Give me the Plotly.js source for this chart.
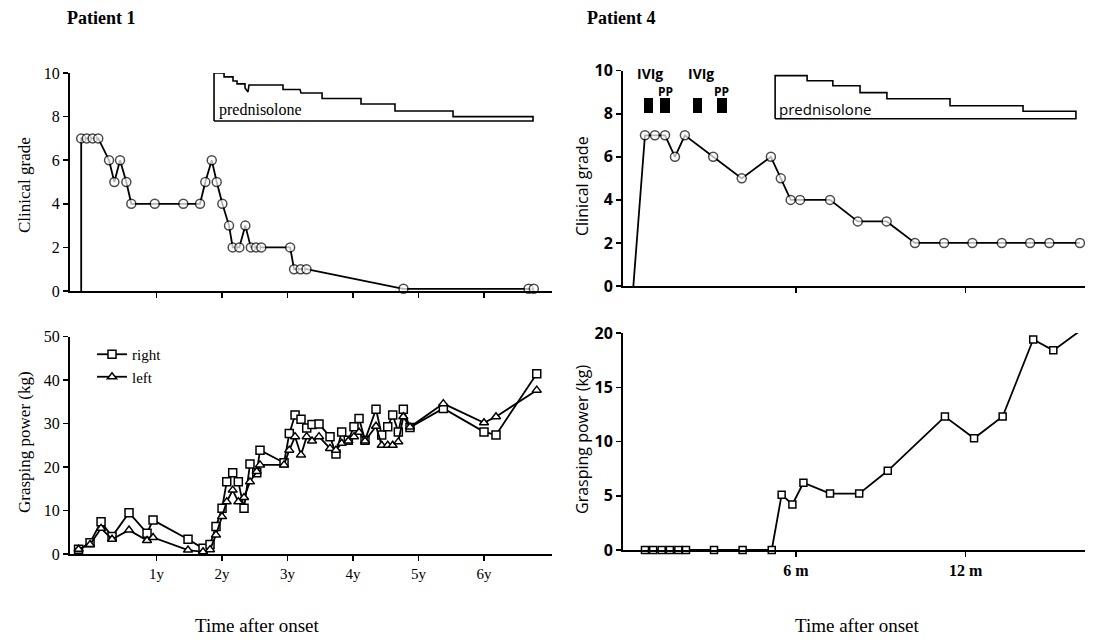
<!DOCTYPE html>
<html>
<head>
<meta charset="utf-8">
<script src="https://cdn.plot.ly/plotly-3.0.1.min.js"></script>
<style>html,body{margin:0;padding:0;background:#fff;}#chart{width:1105px;height:640px;}</style>
</head>
<body>
<div id="chart"></div>
<script>
// ---------- Patient 1 : clinical grade (time in years) ----------
const p1GradeT = [-0.15, -0.15, -0.065, 0.025, 0.11, 0.275, 0.356, 0.443, 0.539, 0.615,
  0.973, 1.409, 1.664, 1.745, 1.843, 1.919, 2.005, 2.107, 2.163, 2.264, 2.356, 2.44, 2.52, 2.6,
  3.04, 3.10, 3.20, 3.29, 4.77, 6.68, 6.76];
const p1Grade = [0, 7, 7, 7, 7, 6, 5, 6, 5, 4,
  4, 4, 4, 5, 6, 5, 4, 3, 2, 2, 3, 2, 2, 2,
  2, 1, 1, 1, 0.1, 0.1, 0.1];

// prednisolone dose outline (patient 1)
const p1PredT = [1.878, 1.878, 2.031, 2.031, 2.168, 2.168, 2.229, 2.229, 2.351, 2.351, 2.397, 2.412, 2.931, 2.931,
  3.191, 3.206, 3.527, 3.527, 4.122, 4.122, 4.641, 4.641, 5.527, 5.527, 6.748, 6.748, 1.878];
const p1PredLevel = [7.8, 10.0, 10.0, 9.82, 9.82, 9.63, 9.63, 9.5, 9.5, 9.31, 9.13, 9.45, 9.45, 9.24,
  9.24, 9.08, 9.08, 8.83, 8.83, 8.58, 8.58, 8.26, 8.26, 8.0, 8.0, 7.8, 7.8];

// ---------- Patient 1 : grasping power (kg) ----------
const p1GripT = [-0.19, -0.015, 0.153, 0.321, 0.58, 0.855, 0.947, 1.481, 1.71, 1.817,
  1.908, 2.0, 2.072, 2.163, 2.249, 2.336, 2.427, 2.53, 2.58, 2.947,
  3.027, 3.115, 3.206, 3.293, 3.374, 3.481, 3.649, 3.74, 3.827, 3.928,
  4.015, 4.092, 4.183, 4.351, 4.438, 4.53, 4.606, 4.692, 4.768, 4.87,
  5.379, 6.0, 6.183, 6.805];
const p1GripRight = [1.1, 2.6, 7.4, 4.0, 9.5, 4.8, 7.8, 3.4, 1.3, 2.2,
  6.3, 10.5, 16.6, 18.7, 16.6, 10.5, 20.7, 18.7, 23.9, 21,
  27.7, 32, 31, 29, 29.8, 29.9, 27, 23, 28.1, 26.2,
  29.3, 31.2, 26.2, 33.3, 27.4, 29.3, 32, 28.1, 33.3, 29.1,
  33.5, 28.1, 27.4, 41.5];
const p1GripLeft = [1.1, 2.2, 5.9, 3.4, 5.5, 3.1, 3.8, 0.9, 0.5, 1.0,
  4.4, 8.6, 12, 14.7, 12, 13, 16.6, 19, 20.5, 20.5,
  23.9, 27, 22.8, 27, 26, 27, 24.3, 23.9, 25.5, 26,
  27, 28, 26, 29.4, 25, 25, 25, 25.8, 31.6, 29.2,
  34.6, 30.2, 31.6, 37.7];
const p1TickVals = [1, 2, 3, 4, 5, 6];
const p1TickText = ['1y', '2y', '3y', '4y', '5y', '6y'];

// ---------- Patient 4 : clinical grade (time in months) ----------
const p4GradeT = [0.26, 0.67, 1.02, 1.38, 1.73, 2.08, 3.08, 4.09, 5.12, 5.47, 5.82, 6.15, 7.21,
  8.19, 9.21, 10.21, 11.24, 12.24, 13.28, 14.28, 14.96, 16.04];
const p4Grade = [0, 7, 7, 7, 6, 7, 6, 5, 6, 5, 4, 4, 4, 3, 3, 2, 2, 2, 2, 2, 2, 2];

// treatments (IVIg / PP) periods in months
const treatStart = [0.64, 1.2, 2.37, 3.22];
const treatEnd = [0.95, 1.55, 2.69, 3.57];
const treatLabels = ['IVIg', 'PP', 'IVIg', 'PP'];
const treatLabelLevel = [9.85, 9.05, 9.85, 9.05];
const treatLabelT = [0.85, 1.41, 2.65, 3.39];

// prednisolone dose outline (patient 4)
const p4PredT = [5.27, 5.27, 6.40, 6.40, 7.31, 7.31, 8.27, 8.27, 9.22, 9.22, 11.45, 11.45, 14.03, 14.03, 15.90, 15.90, 5.27];
const p4PredLevel = [7.77, 9.77, 9.77, 9.53, 9.53, 9.30, 9.30, 8.98, 8.98, 8.70, 8.70, 8.37, 8.37, 8.12, 8.12, 7.77, 7.77];

// ---------- Patient 4 : grasping power (kg) ----------
const p4GripT = [0.67, 0.96, 1.26, 1.55, 1.85, 2.12, 3.11, 4.12, 5.15, 5.50, 5.88, 6.27, 7.21,
  8.24, 9.25, 11.27, 12.30, 13.31, 14.39, 15.10, 16.10];
const p4Grip = [0, 0, 0, 0, 0, 0, 0, 0, 0, 5.1, 4.2, 6.2, 5.2, 5.2, 7.3, 12.3, 10.3, 12.3, 19.4, 18.4, 20.3];
const p4TickVals = [6, 12];
const p4TickText = ['6 m', '12 m'];

// ---------- styling ----------
const SERIF = 'Liberation Serif, Times New Roman, serif';
const SANS = 'Open Sans, DejaVu Sans, sans-serif';
const W = 1105, H = 640;
const px = v => v / W, py = v => 1 - v / H;

const openMarker = (symbol, size) => ({symbol: symbol, size: size, color: '#ffffff', line: {color: '#000', width: 1.5}});

const traces = [
  {x: p1PredT, y: p1PredLevel, xaxis: 'x', yaxis: 'y', mode: 'lines', line: {color: '#000', width: 1.6}, showlegend: false, hoverinfo: 'skip'},
  {x: p1GradeT, y: p1Grade, xaxis: 'x', yaxis: 'y', mode: 'lines+markers', cliponaxis: false,
    line: {color: '#000', width: 1.8},
    marker: Object.assign(openMarker('circle', 9), {size: p1Grade.map((v, i) => i === 0 ? 0 : 9)}),
    showlegend: false},
  {x: p1GripT, y: p1GripRight, xaxis: 'x2', yaxis: 'y2', name: 'right', mode: 'lines+markers', cliponaxis: false,
    line: {color: '#000', width: 1.8}, marker: openMarker('square', 8), showlegend: true},
  {x: p1GripT, y: p1GripLeft, xaxis: 'x2', yaxis: 'y2', name: 'left', mode: 'lines+markers', cliponaxis: false,
    line: {color: '#000', width: 1.8}, marker: openMarker('triangle-up', 8), showlegend: true},
  {x: p4PredT, y: p4PredLevel, xaxis: 'x3', yaxis: 'y3', mode: 'lines', line: {color: '#000', width: 1.6}, showlegend: false, hoverinfo: 'skip'},
  {type: 'bar', x: treatStart.map((s, i) => (s + treatEnd[i]) / 2), width: treatStart.map((s, i) => treatEnd[i] - s),
    y: treatStart.map(() => 0.7), base: 8.05, xaxis: 'x3', yaxis: 'y3', marker: {color: '#000'}, showlegend: false},
  {x: p4GradeT, y: p4Grade, xaxis: 'x3', yaxis: 'y3', mode: 'lines+markers', cliponaxis: false,
    line: {color: '#000', width: 1.8},
    marker: Object.assign(openMarker('circle', 9), {size: p4Grade.map((v, i) => i === 0 ? 0 : 9)}),
    showlegend: false},
  {x: p4GripT, y: p4Grip, xaxis: 'x4', yaxis: 'y4', mode: 'lines+markers', cliponaxis: false,
    line: {color: '#000', width: 1.8}, marker: openMarker('square', 7), showlegend: false}
];

const axBase = {showline: true, linecolor: '#000', linewidth: 2, showgrid: false, zeroline: false,
  ticks: 'outside', ticklen: 5, tickwidth: 1.5, tickcolor: '#000', fixedrange: true};

const p1XDom = [px(70), px(552)], p1XRange = [-0.321, 7.038];
const p4XDom = [px(623), px(1085)], p4XRange = [-0.106, 16.22];

const titleAnn = (text, x, y, font, angle) => ({text: text, xref: 'paper', yref: 'paper', x: px(x), y: py(y),
  xanchor: 'center', yanchor: 'middle', textangle: angle || 0, showarrow: false, font: font});

const layout = {
  width: W, height: H, margin: {l: 0, r: 0, t: 0, b: 0},
  paper_bgcolor: '#fff', plot_bgcolor: 'rgba(0,0,0,0)',
  showlegend: true, bargap: 0,
  legend: {x: px(92), y: py(338), xanchor: 'left', yanchor: 'top', bgcolor: 'rgba(0,0,0,0)',
    font: {family: SERIF, size: 15, color: '#000'}, tracegroupgap: 0, itemwidth: 30},
  xaxis: Object.assign({}, axBase, {domain: p1XDom, range: p1XRange, anchor: 'y', tickvals: p1TickVals, showticklabels: false}),
  yaxis: Object.assign({}, axBase, {domain: [py(291), py(73)], range: [0, 10], dtick: 2, anchor: 'x',
    tickfont: {family: SERIF, size: 16, color: '#000'}}),
  xaxis2: Object.assign({}, axBase, {domain: p1XDom, range: p1XRange, anchor: 'y2', tickvals: p1TickVals, ticktext: p1TickText,
    tickfont: {family: SERIF, size: 15, color: '#000'}}),
  yaxis2: Object.assign({}, axBase, {domain: [py(554), py(336.7)], range: [0, 50], dtick: 10, anchor: 'x2',
    tickfont: {family: SERIF, size: 16, color: '#000'}}),
  xaxis3: Object.assign({}, axBase, {domain: p4XDom, range: p4XRange, anchor: 'y3', tickvals: p4TickVals, showticklabels: false}),
  yaxis3: Object.assign({}, axBase, {domain: [py(286), py(70.7)], range: [0, 10], dtick: 2, anchor: 'x3',
    tickfont: {family: SANS, size: 16, color: '#000', weight: 'bold'}}),
  xaxis4: Object.assign({}, axBase, {domain: p4XDom, range: p4XRange, anchor: 'y4', tickvals: p4TickVals, ticktext: p4TickText,
    tickfont: {family: SERIF, size: 16, color: '#000', weight: 'bold'}}),
  yaxis4: Object.assign({}, axBase, {domain: [py(550), py(333)], range: [0, 20], dtick: 5, anchor: 'x4',
    tickfont: {family: SANS, size: 16, color: '#000', weight: 'bold'}}),
  annotations: [
    Object.assign(titleAnn('Patient 1', 65, 18, {family: SERIF, size: 18, color: '#000', weight: 'bold'}), {xanchor: 'left'}),
    Object.assign(titleAnn('Patient 4', 585, 18, {family: SERIF, size: 18, color: '#000', weight: 'bold'}), {xanchor: 'left'}),
    titleAnn('Clinical grade', 24, 185, {family: SERIF, size: 17, color: '#000'}, -90),
    titleAnn('Grasping power (kg)', 24, 442, {family: SERIF, size: 17, color: '#000'}, -90),
    titleAnn('Clinical grade', 582, 186, {family: SANS, size: 16, color: '#000'}, -90),
    titleAnn('Grasping power (kg)', 582, 440, {family: SANS, size: 16, color: '#000'}, -90),
    titleAnn('Time after onset', 257, 625, {family: SERIF, size: 19, color: '#000'}),
    titleAnn('Time after onset', 857, 625, {family: SERIF, size: 19, color: '#000'}),
    {text: 'prednisolone', xref: 'x', yref: 'y', x: 1.93, y: 8.3, xanchor: 'left', yanchor: 'middle', showarrow: false,
      font: {family: SERIF, size: 16, color: '#000'}},
    {text: 'prednisolone', xref: 'x3', yref: 'y3', x: 5.35, y: 8.2, xanchor: 'left', yanchor: 'middle', showarrow: false,
      font: {family: SANS, size: 15, color: '#000'}}
  ].concat(treatLabels.map((t, i) => ({text: t, xref: 'x3', yref: 'y3', x: treatLabelT[i], y: treatLabelLevel[i],
      xanchor: 'center', yanchor: 'middle', showarrow: false,
      font: {family: SANS, size: t === 'PP' ? 12 : 14, color: '#000', weight: 'bold'}})))
};

Plotly.newPlot('chart', traces, layout, {displayModeBar: false, staticPlot: true});
</script>
</body>
</html>
